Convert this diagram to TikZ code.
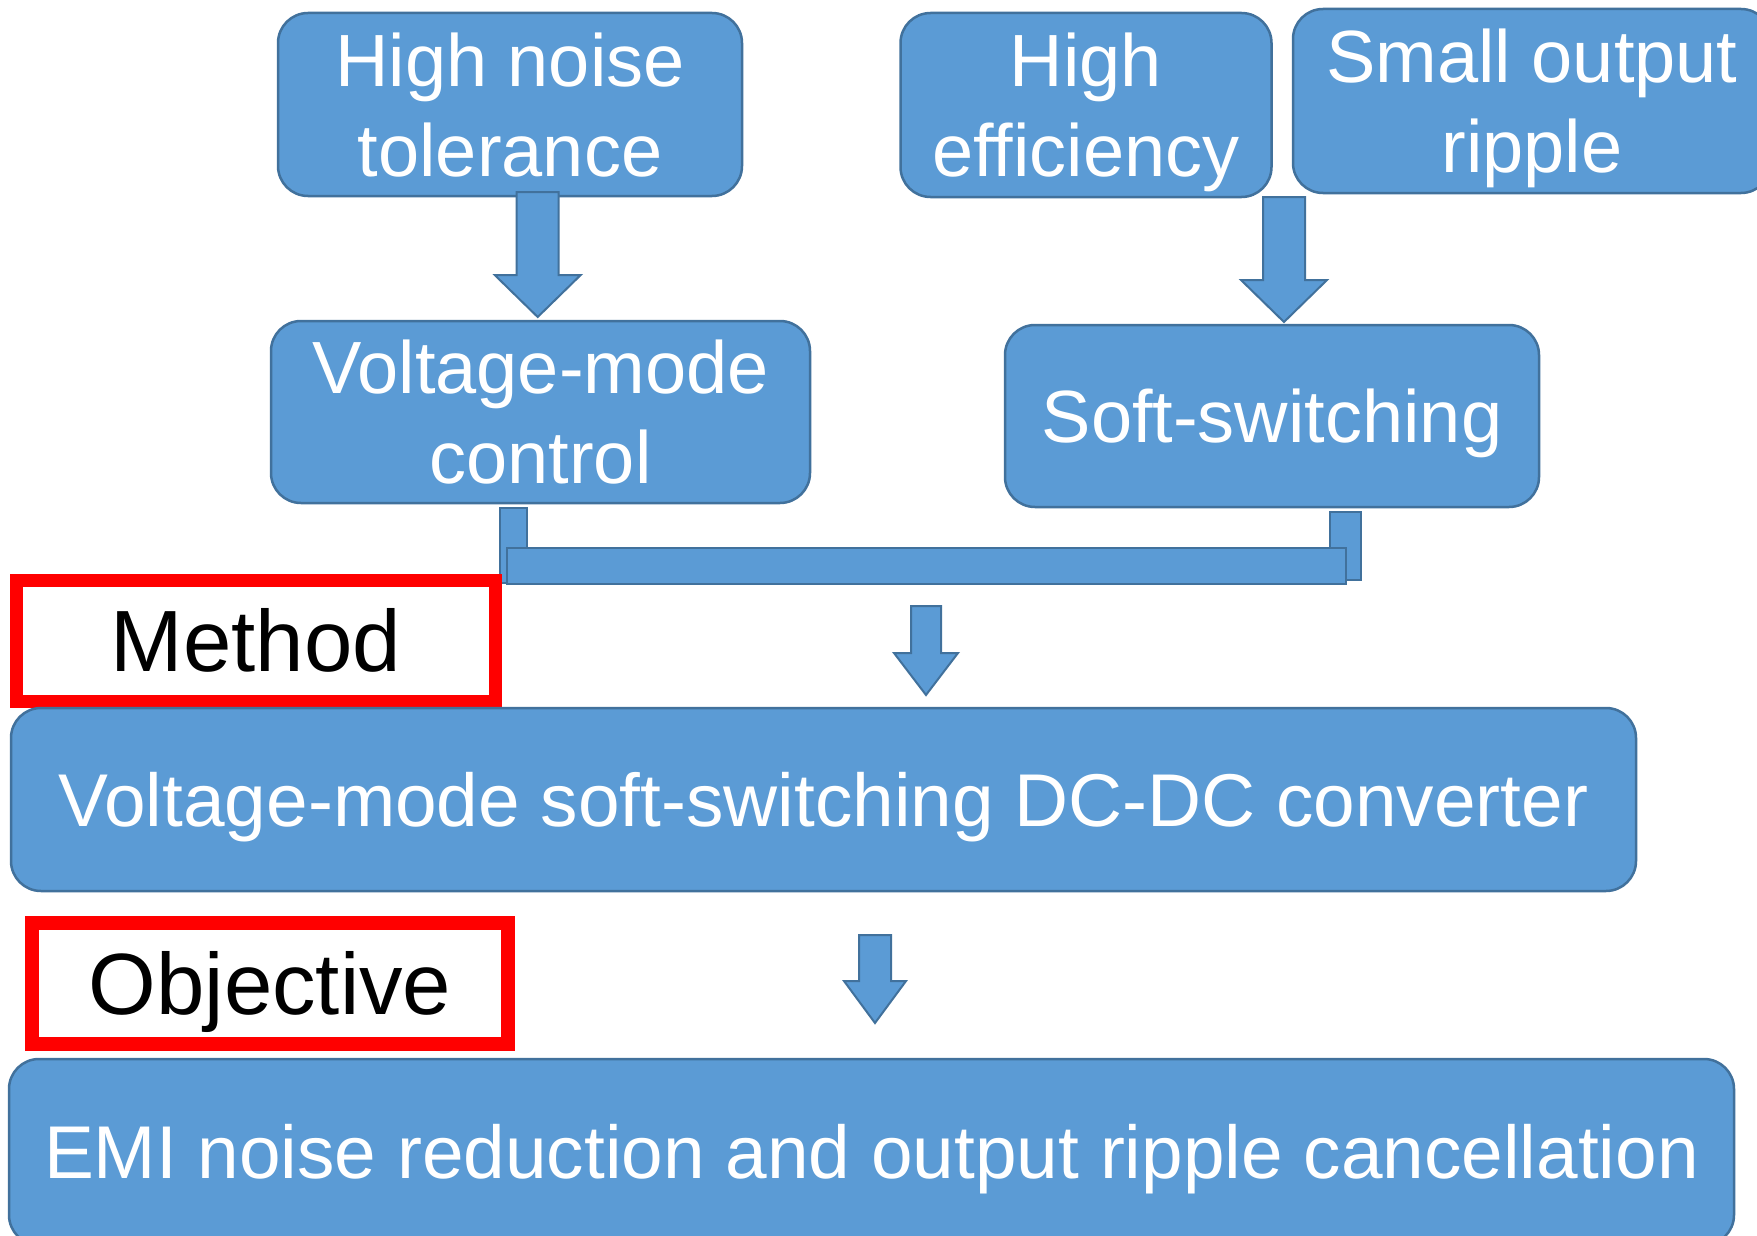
\documentclass[tikz,border=0pt]{standalone}
\usepackage{fontspec}
\setmainfont{Liberation Sans}
\usetikzlibrary{calc}
\definecolor{boxfill}{HTML}{5B9BD5}
\definecolor{boxline}{HTML}{41719C}
\definecolor{redline}{HTML}{FF0000}
\tikzset{
  bluebox/.style={draw=boxline, line width=2.5pt, fill=boxfill, rounded corners=30pt,
    text=white, align=center, inner sep=0pt, font=\fontsize{74}{90}\selectfont},
  twoline/.style={text height=143pt, text depth=0pt},
  oneline/.style={text height=53.5pt, text depth=0pt},
  bigtext/.style={font=\fontsize{74.8}{90}\selectfont, text height=53.5pt, text depth=0pt},
  redbox/.style={draw=redline, fill=white, inner sep=0pt, text=black,
    font=\fontsize{87}{100}\selectfont, text height=62pt, text depth=0pt},
  barrow/.style={draw=boxline, line width=2pt, fill=boxfill, line join=miter},
}
\newcommand\blockarrow[5]{%
  \path[barrow] let \p1=(#1), \p2=(#2) in
    (\x1-#3pt,\y1) -- (\x1+#3pt,\y1) -- (\x1+#3pt,\y2+#5pt) -- (\x1+#4pt,\y2+#5pt)
    -- (\x2,\y2) -- (\x1-#4pt,\y2+#5pt) -- (\x1-#3pt,\y2+#5pt) -- cycle;}
\begin{document}
\begin{tikzpicture}[x=1pt,y=-1pt]
\fill[white] (0,0) rectangle (1757,1236);
\useasboundingbox (0,0) rectangle (1757,1236);

% top row
\node[bluebox, twoline, minimum width=464pt, minimum height=183pt] (b1) at (510,104.5) {High noise\\tolerance};
\node[bluebox, twoline, minimum width=371pt, minimum height=184pt] (b2) at (1086,105) {High\\efficiency};
\node[bluebox, twoline, minimum width=478pt, minimum height=184pt] (b3) at (1532,101) {Small output\\ripple};

% second row
\node[bluebox, twoline, minimum width=539pt, minimum height=182pt] (b4) at (540.5,412) {Voltage-mode\\control};
\node[bluebox, oneline, minimum width=534pt, minimum height=182pt] (b5) at (1272,416) {Soft-switching};

% arrows top -> second row
\coordinate (a1s) at (537.7,192);
\coordinate (a1t) at (537.7,317);
\blockarrow{a1s}{a1t}{21}{43}{42}
\coordinate (a2s) at (1284,197);
\coordinate (a2t) at (1284,322);
\blockarrow{a2s}{a2t}{21}{43}{42}

% bracket joining the two methods
\path[barrow] (500,508) rectangle (527,583);
\path[barrow] (1330,512) rectangle (1361,580);
\path[barrow] (507,548) rectangle (1346,584);

% method label
\node[redbox, line width=13pt, minimum width=479pt, minimum height=121pt] (m1) at (256,640.5) {Method};

\coordinate (a3s) at (926,606);
\coordinate (a3t) at (926,695);
\blockarrow{a3s}{a3t}{15}{32}{42}

% converter
\node[bluebox, bigtext, minimum width=1625pt, minimum height=183pt] (b6) at (823.5,799.5) {Voltage-mode soft-switching DC-DC converter};

% objective label
\node[redbox, line width=14pt, minimum width=476pt, minimum height=121pt] (o1) at (270,983.5) {Objective};

\coordinate (a4s) at (875,935);
\coordinate (a4t) at (875,1023);
\blockarrow{a4s}{a4t}{16}{31}{42}

% objective
\node[bluebox, bigtext, minimum width=1725pt, minimum height=186pt] (b7) at (871.5,1152) {EMI noise reduction and output ripple cancellation};
\end{tikzpicture}
\end{document}
